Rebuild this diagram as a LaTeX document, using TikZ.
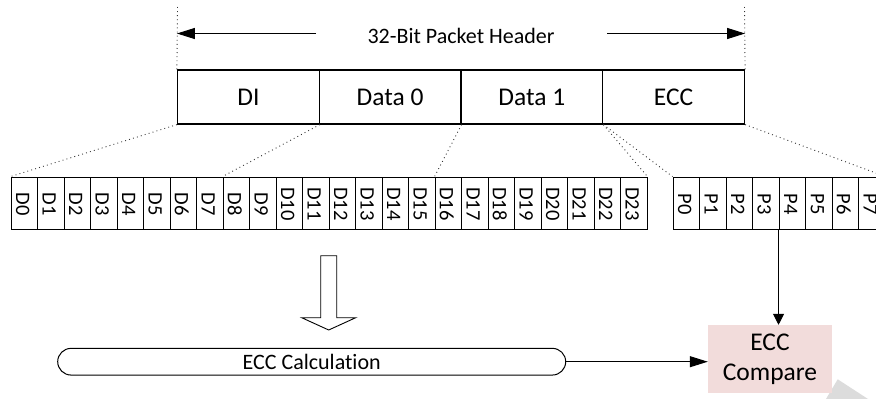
\documentclass[tikz,border=0pt]{standalone}
\usepackage{fontspec}
\setmainfont{Carlito}[Ligatures=NoCommon]
\usetikzlibrary{arrows.meta,shapes.misc,calc}
\definecolor{cmpfill}{RGB}{242,220,219}
\definecolor{wmgray}{RGB}{220,220,220}
\begin{document}
\begin{tikzpicture}[x=1pt,y=-1pt,
  hcell/.style={draw, line width=1.2pt, minimum width=141.75pt, minimum height=54pt, inner sep=0pt, font=\fontsize{25.5}{30}\selectfont},
  bcell/.style={draw, line width=0.9pt, minimum width=26.5pt, minimum height=52.5pt, inner sep=0pt},
  blabel/.style={rotate=-90, inner sep=0pt, font=\fontsize{20.5}{24}\selectfont},
  dotline/.style={line width=0.9pt, dash pattern=on 0.9pt off 3.2pt, draw=black!80},
  harrow/.style={-{Triangle[length=18pt,width=11pt]}, line width=1pt},
  varrow/.style={-{Triangle[length=11pt,width=11pt]}, line width=1pt},
  lbl/.style={inner sep=0pt, font=\fontsize{22}{26}\selectfont},
]
\clip (0,0) rectangle (876,399);
\fill[white] (0,0) rectangle (876,399);

% header cells
\node[hcell] (di)  at (248.375,97) {DI};
\node[hcell] (dz)  at (390.125,97) {Data 0};
\node[hcell] (do)  at (531.875,97) {Data 1};
\node[hcell] (ecc) at (673.625,97) {ECC};

% header dimension
\coordinate (vlt) at (177.5,7);
\coordinate (vrt) at (744.5,7);
\draw[dotline] (vlt) -- (di.north west);
\draw[dotline] (vrt) -- (ecc.north east);
\node[lbl] (hdr) at (461,35.5) {32-Bit Packet Header};
\coordinate (al) at (316,33.5);
\coordinate (ar) at (607,33.5);
\draw[harrow] (al) -- (al -| di.west);
\draw[harrow] (ar) -- (ar -| ecc.east);

% bit cells
\foreach \i in {0,...,23} {
  \node[bcell] (b\i) at ({11+26.5*\i+13.25},203.25) {};
  \node[blabel] (bl\i) at ([xshift=-1.5pt,yshift=-0.7pt]b\i.center) {D\i};
}
\foreach \i in {0,...,7} {
  \node[bcell] (p\i) at ({673+26.5*\i+13.25},203.25) {};
  \node[blabel] (pl\i) at ([xshift=-1.5pt,yshift=-0.7pt]p\i.center) {P\i};
}

% fan-out dotted lines
\draw[dotline] (di.south west) -- (b0.north west);
\draw[dotline] (di.south east) -- (b8.north west);
\draw[dotline] (dz.south east) -- (b16.north west);
\draw[dotline] (do.south east) -- (b23.north east);
\draw[dotline] (do.south east) -- (p0.north west);
\draw[dotline] (ecc.south east) -- (p7.north east);

% hollow down arrow
\draw[line width=0.9pt, fill=white] (320.7,255.7) -- (336.7,255.7) -- (336.7,317.7) -- (355.7,317.7)
  -- (328.7,330) -- (301.7,317.7) -- (320.7,317.7) -- cycle;

% ECC calculation
\node[draw, line width=1pt, rounded rectangle, minimum width=508pt, minimum height=26.7pt, inner sep=0pt,
  font=\fontsize{22}{26}\selectfont] (calc) at (311.7,361.7) {ECC Calculation};

% watermark shape
\fill[wmgray] (826,399) -- (837.7,379.3) -- (868,399) -- cycle;

% ECC compare
\node[fill=cmpfill, minimum width=124pt, minimum height=68.3pt, inner sep=0pt, align=center,
  font=\fontsize{25.5}{30}\selectfont] (cmp) at (770,359.2) {ECC\\Compare};

\draw[harrow] (calc.east) -- (calc.east -| cmp.west);
\draw[varrow] (p4.south west) -- (p4.south west |- cmp.north);
\end{tikzpicture}
\end{document}
